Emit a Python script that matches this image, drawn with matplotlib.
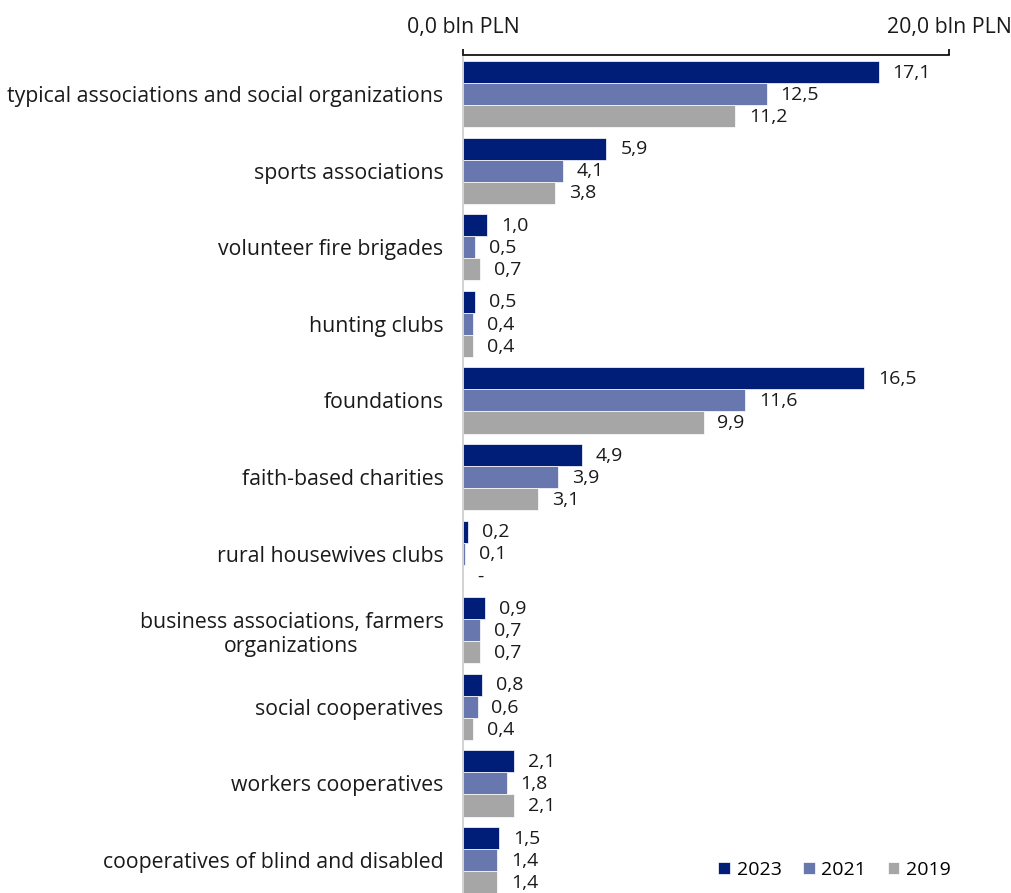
import matplotlib
matplotlib.use("Agg")
import matplotlib.pyplot as plt
import numpy as np

categories = [
    "typical associations and social organizations",
    "sports associations",
    "volunteer fire brigades",
    "hunting clubs",
    "foundations",
    "faith-based charities",
    "rural housewives clubs",
    "business associations, farmers\norganizations",
    "social cooperatives",
    "workers cooperatives",
    "cooperatives of blind and disabled",
]
years = ["2023", "2021", "2019"]
values_2023 = [17.1, 5.9, 1.0, 0.5, 16.5, 4.9, 0.2, 0.9, 0.8, 2.1, 1.5]
values_2021 = [12.5, 4.1, 0.5, 0.4, 11.6, 3.9, 0.1, 0.7, 0.6, 1.8, 1.4]
values_2019 = [11.2, 3.8, 0.7, 0.4, 9.9, 3.1, None, 0.7, 0.4, 2.1, 1.4]
colors = ["#001E78", "#6878AE", "#A6A6A6"]
tick_values = [0, 20]
tick_labels = ["0,0 bln PLN", "20,0 bln PLN"]

plt.rcParams["font.family"] = ["Open Sans", "DejaVu Sans"]

fig = plt.figure(figsize=(10.11, 8.93), dpi=100)
ax = fig.add_axes([463 / 1011, 0, (949 - 463) / 1011, 1 - 55 / 893])

y = np.arange(len(categories))
h = 0.288
series = [values_2023, values_2021, values_2019]
for i, (vals, col, yr) in enumerate(zip(series, colors, years)):
    pos = y + (i - 1) * h
    bar_vals = [v if v is not None else 0 for v in vals]
    ax.barh(pos, bar_vals, height=h, color=col, edgecolor="white",
            linewidth=0.5, label=yr)
    for p, v in zip(pos, vals):
        txt = "-" if v is None else f"{v:.1f}".replace(".", ",")
        xv = 0 if v is None else v
        ax.annotate(txt, (xv, p), xytext=(10, -0.5), textcoords="offset points",
                    va="center", ha="left", fontsize=14, color="#1a1a1a")

ax.set_xlim(0, 20)
ax.set_ylim(len(categories) - 1 + 0.43, -0.51)
ax.set_yticks(y)
ax.set_yticklabels(categories, fontsize=15.3, color="#1a1a1a", ha="right",
                   multialignment="center")
ax.tick_params(axis="y", length=0, pad=14)

ax.xaxis.set_ticks_position("top")
ax.xaxis.set_label_position("top")
ax.set_xticks(tick_values)
ax.set_xticklabels(tick_labels, fontsize=15.3, color="#1a1a1a")
ax.tick_params(axis="x", direction="out", length=4, width=1.2, color="black", pad=8)

for s in ["right", "bottom"]:
    ax.spines[s].set_visible(False)
ax.spines["top"].set_color("black")
ax.spines["top"].set_linewidth(1.2)
ax.spines["left"].set_color("#CCCCCC")
ax.spines["left"].set_linewidth(1.2)

leg = ax.legend(loc="lower right", bbox_to_anchor=(1.04, -0.004), ncol=3,
                frameon=False, fontsize=14, handlelength=0.6, handleheight=0.6,
                handletextpad=0.35, columnspacing=1.1)

fig.savefig("out.png", dpi=100)
